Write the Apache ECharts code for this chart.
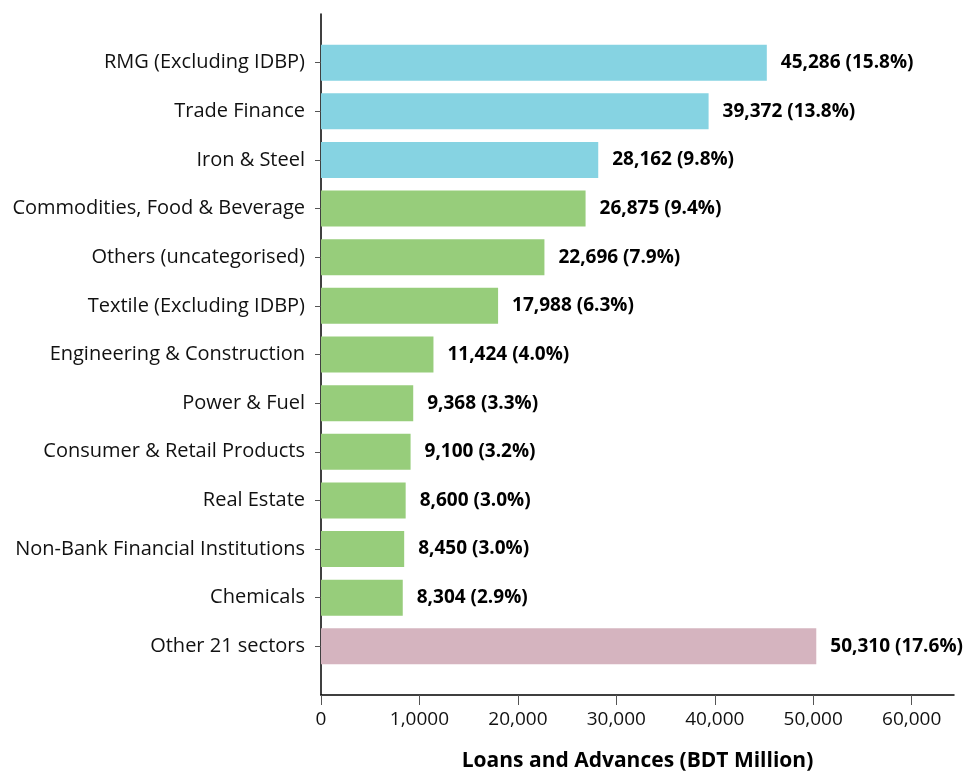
<!DOCTYPE html>
<html><head><meta charset="utf-8">
<script src="https://cdn.jsdelivr.net/npm/echarts@6/dist/echarts.min.js"></script>
<style>html,body{margin:0;padding:0;background:#fff}#c{width:966px;height:774px}</style>
</head><body><div id="c"></div>
<script>
var categories = ["RMG (Excluding IDBP)","Trade Finance","Iron & Steel","Commodities, Food & Beverage","Others (uncategorised)","Textile (Excluding IDBP)","Engineering & Construction","Power & Fuel","Consumer & Retail Products","Real Estate","Non-Bank Financial Institutions","Chemicals","Other 21 sectors"];
var values = [45286,39372,28162,26875,22696,17988,11424,9368,9100,8600,8450,8304,50310];
var shares = ["15.8%","13.8%","9.8%","9.4%","7.9%","6.3%","4.0%","3.3%","3.2%","3.0%","3.0%","2.9%","17.6%"];
var groups = ["blue","blue","blue","green","green","green","green","green","green","green","green","green","pink"];
var tickValues = [0,10000,20000,30000,40000,50000,60000];
var tickLabels = ["0","1,0000","20,000","30,000","40,000","50,000","60,000"];

var palette = {blue:"#86d3e2", green:"#97cd7b", pink:"#d5b4bf"};
var FONT = "Open Sans";
var yData = [" "].concat(categories).concat(["  "]);
var barData = [null].concat(values.map(function(v,i){
  return {value:v, itemStyle:{color:palette[groups[i]]}, share:shares[i]};
})).concat([null]);

var chart = echarts.init(document.getElementById('c'), null, {renderer:'canvas'});
chart.setOption({
  animation:false,
  grid:{left:321, right:12, top:14, bottom:79, containLabel:false, outerBoundsMode:'none'},
  xAxis:{
    type:'value', min:0, max:64300,
    axisLine:{show:true, lineStyle:{color:'#000', width:1.5}},
    axisTick:{show:true, length:10, lineStyle:{color:'#555'}, customValues:tickValues},
    axisLabel:{customValues:tickValues, margin:15, color:'#111', fontSize:19, fontFamily:FONT,
      formatter:function(v){ var i=tickValues.indexOf(v); return i>=0?tickLabels[i]:''; }},
    splitLine:{show:false},
    name:'Loans and Advances (BDT Million)', nameLocation:'middle', nameGap:56,
    nameTextStyle:{fontSize:21, fontWeight:'bold', color:'#000', fontFamily:FONT}
  },
  yAxis:{
    type:'category', inverse:true, boundaryGap:false, data:yData,
    axisLine:{show:true, lineStyle:{color:'#000', width:1.5}},
    axisTick:{show:true, length:6, lineStyle:{color:'#555'},
      interval:function(i,v){ return v.trim()!==''; }},
    axisLabel:{interval:0, margin:16, color:'#111', fontSize:20, fontFamily:FONT},
    splitLine:{show:false}
  },
  series:[{
    type:'bar', data:barData, barWidth:36,
    label:{show:true, position:'right', distance:14, fontSize:19, fontWeight:'bold', color:'#000', fontFamily:FONT,
      formatter:function(p){ return p.value.toLocaleString('en-US')+' ('+p.data.share+')'; }}
  }]
});
</script></body></html>
